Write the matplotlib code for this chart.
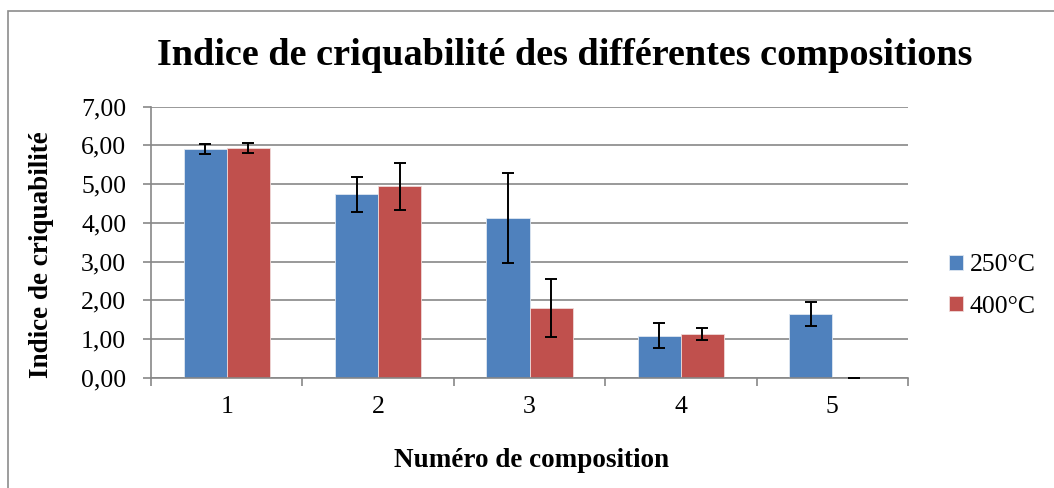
import matplotlib
matplotlib.use("Agg")
import matplotlib.pyplot as plt
import numpy as np
from matplotlib.patches import Rectangle

categories = ["1", "2", "3", "4", "5"]
series_names = ["250°C", "400°C"]
values_250 = [5.91, 4.74, 4.12, 1.09, 1.65]
errors_250 = [0.12, 0.45, 1.16, 0.33, 0.31]
values_400 = [5.93, 4.94, 1.80, 1.13, 0.00]
errors_400 = [0.12, 0.60, 0.74, 0.15, 0.00]
y_ticks = [0, 1, 2, 3, 4, 5, 6, 7]

colors = ["#4F81BD", "#C0504D"]
grid_col = "#878787"

plt.rcParams["font.family"] = ["Liberation Serif", "DejaVu Serif"]

W, H = 1054, 488
fig = plt.figure(figsize=(W / 100, H / 100), dpi=100)
ax = fig.add_axes([151 / W, 1 - 377.7 / H, (908 - 151) / W, (377.7 - 106.7) / H])

# Outer chart frame
fig.patches.append(Rectangle((8 / W, -0.1), 1.2, 1 - 11 / H + 0.1,
                             transform=fig.transFigure, fill=False,
                             edgecolor="#8c8c8c", linewidth=1.2))

x = np.arange(len(categories))
w = 0.285
for i, (vals, errs) in enumerate([(values_250, errors_250), (values_400, errors_400)]):
    pos = x + (i - 0.5) * w
    ax.bar(pos, vals, width=w, color=colors[i], edgecolor="#dfe7f1" if i == 0 else "#efd9d8",
           linewidth=0.6, label=series_names[i], zorder=2)
    ax.errorbar(pos, vals, yerr=errs, fmt="none", ecolor="black", elinewidth=1.4,
                capsize=4, capthick=1.4, zorder=3)

ax.set_xlim(-0.5, len(categories) - 0.5)
ax.set_ylim(0, 7)
ax.set_yticks(y_ticks)
ax.set_yticklabels([f"{v:.2f}".replace(".", ",") for v in y_ticks], fontsize=18.5)
ax.set_xticks(x)
ax.set_xticklabels(categories, fontsize=18.5)
ax.set_xticks(np.arange(len(categories) + 1) - 0.5, minor=True)
ax.tick_params(axis="x", which="major", length=0, pad=13)
ax.tick_params(axis="x", which="minor", length=5.8, width=1.2, color=grid_col)
ax.tick_params(axis="y", length=5.8, width=1.2, color=grid_col, pad=12)

ax.grid(axis="y", color=grid_col, linewidth=1.2, zorder=0)
ax.set_axisbelow(True)
for s in ["top", "right"]:
    ax.spines[s].set_visible(False)
for s in ["left", "bottom"]:
    ax.spines[s].set_color(grid_col)
    ax.spines[s].set_linewidth(1.2)

fig.text(42 / W, 1 - 255 / H, "Indice de criquabilité", fontsize=19.5,
         fontweight="bold", rotation=90, ha="center", va="center")
fig.text(532 / W, 1 - 467 / H, "Numéro de composition", fontsize=19.5,
         fontweight="bold", ha="center", va="baseline")
fig.text(564.5 / W, 1 - 65 / H, "Indice de criquabilité des différentes compositions",
         fontsize=27.5, fontweight="bold", ha="center", va="baseline")

ax.legend(loc="center left", bbox_to_anchor=(949 / W, 1 - 286 / H),
          bbox_transform=fig.transFigure, frameon=False, fontsize=18.5,
          borderpad=0, borderaxespad=0,
          handlelength=0.55, handleheight=0.55, handletextpad=0.25, labelspacing=0.75)

fig.savefig("out.png", dpi=100)
